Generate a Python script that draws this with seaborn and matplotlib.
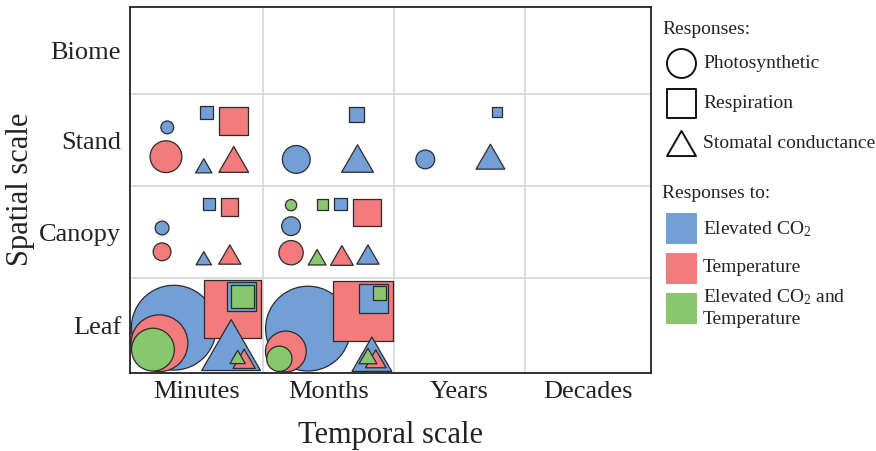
import numpy as np
import pandas as pd
import matplotlib
matplotlib.use("Agg")
import matplotlib.pyplot as plt
from matplotlib.path import Path
import seaborn as sns

# axis categories
temporal_scales = ["Minutes", "Months", "Years", "Decades"]
spatial_scales = ["Leaf", "Canopy", "Stand", "Biome"]

# one entry per symbol, in drawing order (big ones first)
temporal = (["Minutes"] * 6 + ["Months"] * 3 + ["Years"] * 3
            + ["Minutes"] * 6 + ["Months"] * 9
            + ["Minutes"] * 9 + ["Months"] * 9)
spatial = (["Stand"] * 12 + ["Canopy"] * 15 + ["Leaf"] * 18)
response = ["Photosynthetic", "Photosynthetic", "Respiration", "Respiration",
            "Stomatal conductance", "Stomatal conductance",
            "Photosynthetic", "Respiration", "Stomatal conductance",
            "Photosynthetic", "Respiration", "Stomatal conductance",
            "Photosynthetic", "Photosynthetic", "Respiration", "Respiration",
            "Stomatal conductance", "Stomatal conductance",
            "Photosynthetic", "Photosynthetic", "Photosynthetic",
            "Respiration", "Respiration", "Respiration",
            "Stomatal conductance", "Stomatal conductance", "Stomatal conductance",
            "Photosynthetic", "Photosynthetic", "Photosynthetic",
            "Respiration", "Respiration", "Respiration",
            "Stomatal conductance", "Stomatal conductance", "Stomatal conductance",
            "Photosynthetic", "Photosynthetic", "Photosynthetic",
            "Respiration", "Respiration", "Respiration",
            "Stomatal conductance", "Stomatal conductance", "Stomatal conductance"]
driver = ["CO2", "Temp", "CO2", "Temp", "CO2", "Temp",
          "CO2", "CO2", "CO2",
          "CO2", "CO2", "CO2",
          "CO2", "Temp", "CO2", "Temp", "CO2", "Temp",
          "Both", "CO2", "Temp", "Both", "CO2", "Temp", "Both", "Temp", "CO2",
          "CO2", "Temp", "Both", "Temp", "CO2", "Both", "CO2", "Temp", "Both",
          "CO2", "Temp", "Both", "Temp", "CO2", "Both", "CO2", "Temp", "Both"]
magnitude = [14, 33, 14, 30, 17.5, 31,
             29, 16.5, 33,
             20, 11.5, 30,
             15, 19, 13.5, 18.5, 16.5, 23.5,
             12.5, 20, 25.5, 12.5, 13.5, 29, 19, 24, 23.5,
             86, 58, 44, 59, 31, 24, 60, 23.5, 16.5,
             86, 42, 26.5, 61, 30.5, 14.5, 41, 22, 19]

# placement of each symbol inside its cell (fraction of cell from centre)
dx = [-0.21, -0.22, 0.09, 0.30, 0.07, 0.30,
      -0.22, 0.24, 0.25,
      -0.23, 0.32, 0.27,
      -0.25, -0.25, 0.11, 0.27, 0.07, 0.27,
      -0.26, -0.26, -0.26, -0.02, 0.12, 0.32, -0.06, 0.13, 0.33,
      -0.16, -0.27, -0.32, 0.29, 0.36, 0.37, 0.28, 0.38, 0.33,
      -0.13, -0.30, -0.35, 0.29, 0.37, 0.42, 0.36, 0.39, 0.33]
dy = [0.18, -0.14, 0.34, 0.25, -0.24, -0.17,
      -0.17, 0.32, -0.16,
      -0.17, 0.35, -0.14,
      0.08, -0.18, 0.34, 0.31, -0.25, -0.21,
      0.33, 0.10, -0.19, 0.34, 0.34, 0.25, -0.24, -0.22, -0.21,
      -0.01, -0.18, -0.25, 0.19, 0.33, 0.33, -0.20, -0.35, -0.33,
      -0.02, -0.27, -0.35, 0.17, 0.31, 0.37, -0.30, -0.35, -0.32]

df = pd.DataFrame({"temporal": temporal, "spatial": spatial,
                   "response": response, "driver": driver,
                   "magnitude": magnitude})
df["x"] = df["temporal"].map(temporal_scales.index) + 0.5 + np.array(dx)
df["y"] = df["spatial"].map(spatial_scales.index) + 0.5 + np.array(dy)

blue, red, green = "#729fd5", "#f27b7b", "#89c76f"
edge = "#2b2b2b"
palette = {"CO2": blue, "Temp": red, "Both": green}

tri = Path([(-1, -0.866), (1, -0.866), (0, 0.866), (-1, -0.866)], closed=True)
markers = {"Photosynthetic": "o", "Respiration": "s", "Stomatal conductance": tri}

PT = 0.72  # points per pixel at dpi 100
sizes = {m: ((m - 1.2) * PT) ** 2 for m in set(magnitude)}

sns.set_style("white")
plt.rcParams["font.family"] = ["Liberation Serif", "DejaVu Serif"]
plt.rcParams["mathtext.default"] = "regular"

fig = plt.figure(figsize=(8.76, 4.51), dpi=100)
ax = fig.add_axes([129.5 / 876, (451 - 372.5) / 451,
                   (650.7 - 129.5) / 876, (372.5 - 6.7) / 451])

sns.scatterplot(data=df, x="x", y="y", hue="driver", style="response",
                size="magnitude", palette=palette, markers=markers,
                sizes=sizes, edgecolor=edge, linewidth=0.9, alpha=1,
                legend=False, ax=ax)

# cell borders as in the original (cells not quite equal)
xb = [0, 1.027, 2.028, 3.035, 4]
yb = [0, 1.03, 2.039, 3.045, 4]
ax.set_xlim(0, 4)
ax.set_ylim(0, 4)
ax.set_xticks([(a + b) / 2 for a, b in zip(xb[:-1], xb[1:])], temporal_scales, fontsize=19)
ax.set_yticks([(a + b) / 2 for a, b in zip(yb[:-1], yb[1:])], spatial_scales, fontsize=19)
ax.set_xticks(xb[1:-1], minor=True)
ax.set_yticks(yb[1:-1], minor=True)
ax.grid(which="major", visible=False)
ax.grid(which="minor", color="#d9d9d9", linewidth=1.3)
ax.set_axisbelow(True)
ax.tick_params(which="both", length=0, pad=6, colors="#222222")
ax.set_xlabel("Temporal scale", fontsize=22, labelpad=13, color="#222222")
ax.set_ylabel("Spatial scale", fontsize=22, labelpad=3, color="#222222")
for s in ax.spines.values():
    s.set_color("#222222")
    s.set_linewidth(1.3)

# legend drawn in its own pixel-space axes
lg = fig.add_axes([650 / 876, 0, 226 / 876, 1])
lg.set_xlim(650, 876)
lg.set_ylim(451, 0)
lg.axis("off")
txt = dict(fontsize=14, va="center", ha="left", color="#222222")
lg.text(662, 30, "Responses:", **txt)
for yy, mk, lab in [(63, "o", "Photosynthetic"), (102.5, "s", "Respiration"),
                    (142.7, tri, "Stomatal conductance")]:
    lg.scatter([681], [yy], marker=mk, s=(29 * PT) ** 2, facecolor="white",
               edgecolor="#111111", linewidth=1.4, clip_on=False)
    lg.text(703, yy + 1, lab, **txt)
lg.text(662, 193, "Responses to:", **txt)
for yy, c in [(228, blue), (268, red), (308.5, green)]:
    lg.add_patch(plt.Rectangle((666, yy - 15.5), 31, 31, facecolor=c,
                               edgecolor="none"))
lg.text(703, 229, "Elevated CO$_2$", **txt)
lg.text(703, 268, "Temperature", **txt)
lg.text(703, 297, "Elevated CO$_2$ and", **txt)
lg.text(703, 320, "Temperature", **txt)

fig.savefig("out.png", dpi=100)
